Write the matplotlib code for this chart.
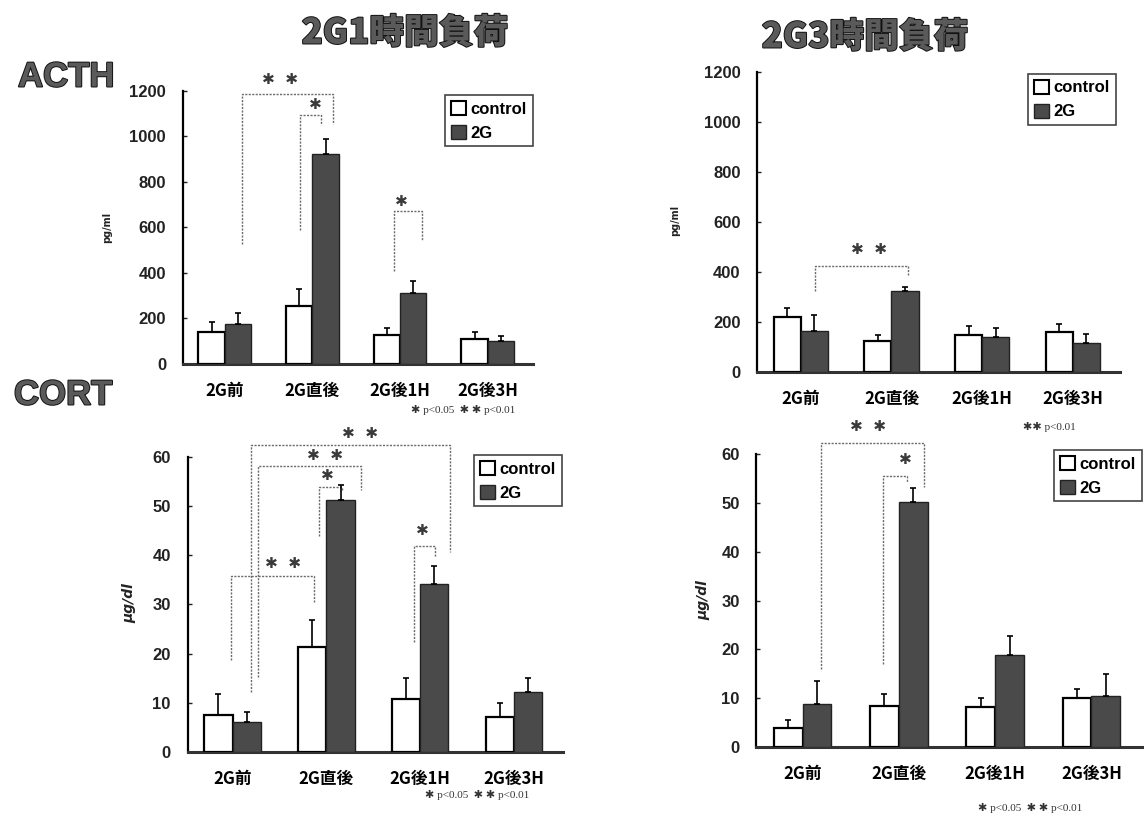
import numpy as np
import matplotlib
matplotlib.use("Agg")
import matplotlib.pyplot as plt
from matplotlib.patches import Patch
import matplotlib.patheffects as pe

# ---------------- data ----------------
categories = ["2G前", "2G直後", "2G後1H", "2G後3H"]
series_names = ["control", "2G"]

# ACTH (pg/ml), 1-hour 2G load
acth_1h_control = [142, 255, 127, 110]
acth_1h_control_err = [44, 74, 30, 32]
acth_1h_2g = [176, 922, 310, 102]
acth_1h_2g_err = [47, 66, 56, 22]

# ACTH (pg/ml), 3-hour 2G load
acth_3h_control = [218, 123, 147, 158]
acth_3h_control_err = [39, 24, 36, 33]
acth_3h_2g = [164, 325, 140, 116]
acth_3h_2g_err = [63, 16, 34, 35]

# CORT (ug/dl), 1-hour 2G load
cort_1h_control = [7.5, 21.3, 10.7, 7.2]
cort_1h_control_err = [4.3, 5.5, 4.4, 2.7]
cort_1h_2g = [6.0, 51.2, 34.1, 12.1]
cort_1h_2g_err = [2.1, 3.1, 3.7, 2.9]

# CORT (ug/dl), 3-hour 2G load
cort_3h_control = [3.8, 8.4, 8.2, 9.9]
cort_3h_control_err = [1.7, 2.4, 1.7, 1.9]
cort_3h_2g = [8.8, 50.3, 18.8, 10.4]
cort_3h_2g_err = [4.7, 2.7, 4.0, 4.5]

acth_ticks = [0, 200, 400, 600, 800, 1000, 1200]
cort_ticks = [0, 10, 20, 30, 40, 50, 60]

# significance brackets: (x_left, x_right, y_top, y_left_end, y_right_end, label, label_x, label_y)
acth_1h_brackets = [
    (0.20, 1.24, 1185, 525, 1054, "✱  ✱", 0.63, 1250),
    (0.86, 1.10, 1093, 588, 1049, "✱", 1.03, 1140),
    (1.93, 2.25, 672, 410, 541, "✱", 2.02, 715),
]
acth_3h_brackets = [
    (0.16, 1.18, 425, 325, 388, "✱  ✱", 0.75, 490),
]
cort_1h_brackets = [
    (0.20, 2.32, 62.3, 12.2, 40.7, "✱  ✱", 1.36, 64.8),
    (0.27, 1.37, 58.1, 15.2, 53.2, "✱  ✱", 0.98, 60.3),
    (0.92, 1.17, 53.9, 43.8, 53.2, "✱", 1.01, 56.2),
    (-0.02, 0.87, 35.7, 18.6, 30.5, "✱  ✱", 0.54, 38.3),
    (1.93, 2.16, 41.9, 22.4, 39.6, "✱", 2.02, 45.0),
]
cort_3h_brackets = [
    (0.19, 1.26, 62.4, 15.9, 53.3, "✱  ✱", 0.68, 65.8),
    (0.84, 1.09, 55.6, 16.9, 54.4, "✱", 1.07, 59.0),
]

# ---------------- styling ----------------
W, H = 1144, 813
DARK = "#4a4a4a"
CJK = ["Noto Sans CJK JP", "DejaVu Sans"]
SANS = ["Liberation Sans", "DejaVu Sans"]
SERIF = ["Liberation Serif", "DejaVu Sans"]
STAR = ["DejaVu Sans"]
BW = 0.30

fig = plt.figure(figsize=(W / 100, H / 100), dpi=100)
fig.patch.set_facecolor("white")


def frac(px, py):
    return px / W, 1 - py / H


def box(l, t, r, b):
    return [l / W, 1 - b / H, (r - l) / W, (b - t) / H]


def draw_panel(rect, ctrl, ctrl_err, g2, g2_err, ticks, brackets,
               legend_xy):
    ax = fig.add_axes(rect)
    x = np.arange(len(categories))
    ekw = dict(ecolor="black", elinewidth=1.2, capsize=2.5, capthick=1.2)
    ax.bar(x - BW / 2, ctrl, BW, color="white", edgecolor="black",
           linewidth=1.6, yerr=[np.zeros(len(ctrl)), ctrl_err],
           error_kw=ekw, zorder=3)
    ax.bar(x + BW / 2, g2, BW, color=DARK, edgecolor="#222222",
           linewidth=1.0, yerr=[np.zeros(len(g2)), g2_err],
           error_kw=ekw, zorder=3)

    ax.set_xlim(-0.48, 3.52)
    ax.set_ylim(ticks[0], ticks[-1])
    ax.set_yticks(ticks)
    ax.set_yticklabels([str(t) for t in ticks], family=SANS,
                       fontweight="bold", fontsize=12)
    ax.set_xticks(x)
    ax.set_xticklabels(categories, family=CJK, fontweight="bold",
                       fontsize=12)
    ax.tick_params(axis="y", direction="in", length=3, width=1,
                   pad=12, colors="#222222")
    ax.tick_params(axis="x", length=0, pad=13)
    for s in ("top", "right"):
        ax.spines[s].set_visible(False)
    ax.spines["left"].set_linewidth(1.6)
    ax.spines["bottom"].set_linewidth(2.2)
    ax.spines["bottom"].set_color("#333333")
    ax.patch.set_alpha(0)

    for (xl, xr, yt, yl, yr, lab, lx, ly) in brackets:
        ax.plot([xl, xl, xr, xr], [yl, yt, yt, yr], color="#6a6a6a",
                lw=1.0, ls=(0, (1.5, 1)), clip_on=False, zorder=2)
        ax.text(lx, ly, lab, ha="center", va="center", family=STAR,
                fontsize=11, fontweight="bold", color="#3a3a3a",
                clip_on=False)

    handles = [Patch(facecolor="white", edgecolor="black", lw=1.5),
               Patch(facecolor=DARK, edgecolor="#222222", lw=1.0)]
    leg = ax.legend(handles, series_names, loc="upper left",
                    bbox_to_anchor=frac(*legend_xy),
                    bbox_transform=fig.transFigure,
                    prop=dict(family=SANS, weight="bold", size=12),
                    handlelength=0.9, handleheight=0.9,
                    handletextpad=0.3, borderpad=0.35,
                    labelspacing=0.5, borderaxespad=0,
                    fancybox=False, framealpha=1)
    leg.get_frame().set_edgecolor("#444444")
    leg.get_frame().set_linewidth(1.2)
    return ax


draw_panel(box(182.7, 90.7, 533.3, 364), acth_1h_control,
           acth_1h_control_err, acth_1h_2g, acth_1h_2g_err,
           acth_ticks, acth_1h_brackets, (445, 95))
draw_panel(box(757.3, 72.3, 1120, 371.7), acth_3h_control,
           acth_3h_control_err, acth_3h_2g, acth_3h_2g_err,
           acth_ticks, acth_3h_brackets, (1028, 74))
draw_panel(box(187.5, 456.7, 563, 752), cort_1h_control,
           cort_1h_control_err, cort_1h_2g, cort_1h_2g_err,
           cort_ticks, cort_1h_brackets, (474, 455))
draw_panel(box(756.3, 454.3, 1141.5, 746.7), cort_3h_control,
           cort_3h_control_err, cort_3h_2g, cort_3h_2g_err,
           cort_ticks, cort_3h_brackets, (1054, 450))

# panel titles and row labels
outline = [pe.withStroke(linewidth=1.4, foreground="#111111")]
for (px, py, s, fam, ha) in [(405, 33, "2G1時間負荷", CJK, "center"),
                             (865, 37, "2G3時間負荷", CJK, "center"),
                             (18, 77, "ACTH", SANS, "left"),
                             (14, 395, "CORT", SANS, "left")]:
    fig.text(*frac(px, py), s, ha=ha, va="center", family=fam,
             fontweight="heavy", fontsize=25, color="#5a5a5a",
             path_effects=outline)

# y-axis unit labels
for (px, py, s, fs, st) in [(107, 227, "pg/ml", 7, "normal"),
                            (675, 220, "pg/ml", 7, "normal"),
                            (129, 603, "μg/dl", 10, "italic"),
                            (703, 600, "μg/dl", 10, "italic")]:
    fig.text(*frac(px, py), s, rotation=90, ha="center", va="center",
             family=["DejaVu Sans"], fontweight="bold", fontsize=fs,
             fontstyle=st, color="#222222")

# significance footnotes
for (px, py, s) in [(463, 410, "✱ p<0.05  ✱ ✱ p<0.01"),
                    (1049, 427, "✱✱ p<0.01"),
                    (477, 795, "✱ p<0.05  ✱ ✱ p<0.01"),
                    (1030, 808, "✱ p<0.05  ✱ ✱ p<0.01")]:
    fig.text(*frac(px, py), s, ha="center", va="center", family=SERIF,
             fontsize=8, color="#333333")

fig.savefig("out.png", dpi=100, facecolor="white")
